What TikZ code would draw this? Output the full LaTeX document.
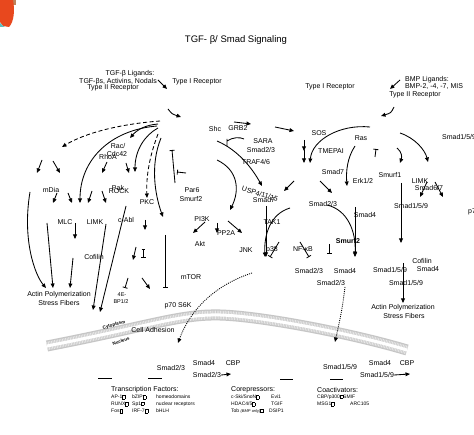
\documentclass[tikz,border=0pt]{standalone}
\usepackage{fontspec}
\setmainfont{Liberation Sans}
\usetikzlibrary{arrows.meta}
\newcommand\sqb{{\setlength{\fboxsep}{0pt}\setlength{\fboxrule}{0.3pt}\fbox{\rule{0pt}{3pt}\hspace{2.5pt}}}}
\definecolor{blobred}{RGB}{232,72,30}
\definecolor{blobbrown}{RGB}{190,130,90}
\definecolor{blobteal}{RGB}{90,190,190}
\begin{document}
\begin{tikzpicture}[x=1pt,y=-1pt,
 lbl/.style={font=\fontsize{7}{8}\selectfont,inner sep=0pt},
 sml/.style={font=\fontsize{5}{6}\selectfont,inner sep=0pt,anchor=west},
 hd/.style={font=\fontsize{7}{8}\selectfont,inner sep=0pt,anchor=west},
 ar/.style={line width=0.85pt,-{Triangle[length=4.5pt,width=3.8pt]}},
 inh/.style={line width=0.85pt,-{Bar[width=5pt,line width=0.85pt]}},
 dsh/.style={ar,dash pattern=on 4pt off 2.5pt},
 dotl/.style={ar,dash pattern=on 1pt off 1.1pt},
 seg/.style={line width=0.6pt}]
\useasboundingbox (0,0) rectangle (474,435);
\fill[white] (0,0) rectangle (474,435);
% corner blob
\fill[blobbrown] (10,0) rectangle (16,5);
\fill[blobred] (0,0) -- (13,0) .. controls (15,10) and (14,22) .. (9,27) -- (3,26) -- (0,22) -- cycle;
\fill[blobteal] (0,23) -- (3,26) -- (5,27) -- (0,27) -- cycle;
% membrane band
\draw[gray!45,line width=11pt] (47,346) .. controls (150,326) and (180,314) .. (220,315) .. controls (260,316) and (350,333) .. (407,350);
\draw[gray!18,line width=8.5pt,dash pattern=on 0.8pt off 0.8pt] (47,346) .. controls (150,326) and (180,314) .. (220,315) .. controls (260,316) and (350,333) .. (407,350);
\draw[white,line width=3pt] (47,346) .. controls (150,326) and (180,314) .. (220,315) .. controls (260,316) and (350,333) .. (407,350);
\node[font=\fontsize{4.5}{5}\selectfont\bfseries,inner sep=0,rotate=15] (cyto) at (114,325) {Cytoplasm};
\node[font=\fontsize{4.5}{5}\selectfont\bfseries,inner sep=0,rotate=18] (nucl) at (121,341) {Nucleus};
% title and ligands
\node[font=\fontsize{9.5}{11}\selectfont,inner sep=0] (title) at (236,40) {TGF- β/ Smad Signaling};
\node[lbl] (lig1) at (130,74) {TGF-β Ligands:};
\node[lbl] (lig2) at (118,82) {TGF-βs, Activins, Nodals};
\node[lbl] (lig3) at (113,88) {Type II Receptor};
\node[lbl] (rec1) at (197,82) {Type I Receptor};
\node[lbl] (rec2) at (330,87) {Type I Receptor};
\node[lbl] (bmp1) at (427,80) {BMP Ligands:};
\node[lbl] (bmp2) at (434,87) {BMP-2, -4, -7, MIS};
\node[lbl] (bmp3) at (415,95) {Type II Receptor};
\node[lbl,anchor=west] (s159a) at (442,137) {Smad1/5/9};
\node[lbl,anchor=west] (p70b) at (468,212) {p70 S6K};
% left labels
\node[lbl] (rac) at (118,146) {Rac/};
\node[lbl] (rhoa) at (108,157) {RhoA};
\node[lbl] (cdc) at (117,154) {Cdc42};
\node[lbl] (pak) at (118,188) {Pak};
\node[lbl] (rock) at (119,191) {ROCK};
\node[lbl] (mdia) at (51,190) {mDia};
\node[lbl] (mlc) at (65,222) {MLC};
\node[lbl] (limk) at (95,222) {LIMK};
\node[lbl] (cabl) at (126,220) {c-Abl};
\node[lbl] (pkc) at (147,202) {PKC};
\node[lbl] (par6) at (192,190) {Par6};
\node[lbl] (smurf2a) at (191,199) {Smurf2};
\node[lbl] (cof) at (94,257) {Cofilin};
\node[lbl] (mtor) at (191,277) {mTOR};
\node[font=\fontsize{5.5}{6}\selectfont,inner sep=0] (ebp1) at (122,295) {4E-};
\node[font=\fontsize{5.5}{6}\selectfont,inner sep=0] (ebp2) at (121,302) {BP1/2};
\node[lbl] (p70) at (178,306) {p70 S6K};
\node[lbl] (act1) at (59,295) {Actin Polymerization};
\node[lbl] (sf1) at (59,303) {Stress Fibers};
\node[lbl] (pi3k) at (202,219) {PI3K};
\node[lbl] (pp2a) at (226,233) {PP2A};
\node[lbl] (akt) at (200,244) {Akt};
% middle labels
\node[lbl] (shc) at (215,129) {Shc};
\node[lbl] (grb2) at (238,128) {GRB2};
\node[lbl] (sara) at (263,141) {SARA};
\node[lbl] (s23a) at (261,150) {Smad2/3};
\node[lbl] (traf) at (256,162) {TRAF4/6};
\node[lbl,rotate=-17] (usp) at (260,194) {USP4/11/15};
\node[lbl] (smad7a) at (264,200) {Smad7};
\node[lbl] (tak1) at (272,222) {TAK1};
\node[lbl] (jnk) at (246,250) {JNK};
\node[lbl] (p38) at (272,250) {p38};
\node[lbl] (nfkb) at (303,249) {NF-κB};
\node[lbl] (s23b) at (323,204) {Smad2/3};
\node[lbl] (s4a) at (365,215) {Smad4};
\node[lbl,font=\fontsize{7}{8}\selectfont\bfseries] (smurf2b) at (348,241) {Smurf2};
\node[lbl] (sos) at (319,133) {SOS};
\node[lbl] (ras) at (361,138) {Ras};
\node[lbl] (tmepai) at (331,151) {TMEPAI};
\node[lbl] (smad7b) at (333,172) {Smad7};
\node[lbl] (erk) at (363,181) {Erk1/2};
\node[lbl] (smurf1) at (390,175) {Smurf1};
\node[lbl] (limk2) at (420,181) {LIMK};
\node[lbl] (s67) at (429,188) {Smad6/7};
\node[lbl] (s159b) at (411,206) {Smad1/5/9};
\node[lbl] (s23c) at (309,271) {Smad2/3};
\node[lbl] (s4b) at (345,271) {Smad4};
\node[lbl] (s23d) at (331,283) {Smad2/3};
\node[lbl] (s159c) at (390,270) {Smad1/5/9};
\node[lbl] (cof2) at (422,261) {Cofilin};
\node[lbl] (s4c) at (428,269) {Smad4};
\node[lbl] (s159d) at (406,283) {Smad1/5/9};
\node[lbl] (act2) at (403,308) {Actin Polymerization};
\node[lbl] (sf2) at (404,316) {Stress Fibers};
\node[lbl] (cadh) at (153,330) {Cell Adhesion};
% nucleus labels
\node[lbl] (n23a) at (171,368) {Smad2/3};
\node[lbl] (n4a) at (204,363) {Smad4};
\node[lbl] (ncbpa) at (233,363) {CBP};
\node[lbl] (n23b) at (207,375) {Smad2/3};
\node[lbl] (n159a) at (340,367) {Smad1/5/9};
\node[lbl] (n4b) at (380,363) {Smad4};
\node[lbl] (ncbpb) at (407,363) {CBP};
\node[lbl] (n159b) at (377,375) {Smad1/5/9};
\coordinate (n23e) at (231,374);
\coordinate (n159e) at (410,374);
\draw[ar] (n23b.east) -- (n23e);
\draw[ar] (n159b.east) -- (n159e);
\draw[seg] (98,378) -- (112,378) (148,378) -- (162,378) (280,379) -- (293,379) (330,379) -- (343,379);
% factor lists
\node[hd] (tfh) at (111,390) {Transcription Factors:};
\node[sml] at (111,397) {AP-1\sqb}; \node[sml] at (132,397) {bZIP\sqb}; \node[sml] at (156,397) {homeodomains};
\node[sml] at (111,404) {RUNX\sqb}; \node[sml] at (132,404) {Sp1\sqb}; \node[sml] at (156,404) {nuclear receptors};
\node[sml] at (111,411) {Fos\sqb}; \node[sml] at (132,411) {IRF-7\sqb}; \node[sml] at (156,411) {bHLH};
\node[hd] (coh) at (231,390) {Corepressors:};
\node[sml] at (231,397) {c-Ski/SnoN\sqb}; \node[sml] at (271,397) {Evi1};
\node[sml] at (231,404) {HDAC4/5\sqb}; \node[sml] at (271,404) {TGIF};
\node[sml] at (231,411) {Tob {\fontsize{4}{5}\selectfont\itshape (BMP only)}\sqb}; \node[sml] at (269,411) {DSIP1};
\node[hd] (cah) at (317,390) {Coactivators:};
\node[sml] at (317,397) {CBP/p300\sqb}; \node[sml] at (343,397) {SMIF};
\node[sml] at (317,404) {MSG1\sqb}; \node[sml] at (350,404) {ARC105};
% top connectors
\draw[ar] (158,80) -- (167,89);
\draw[ar] (168,109) .. controls (172,114) .. (181,117);
\draw[ar] (400,80) -- (390,89);
\draw[ar] (394,107) .. controls (391,113) .. (381,116);
\draw[ar] (234,122) -- (251,124);
\draw[ar] (275,127) -- (294,131);
\draw[line width=0.85pt] (227,139) -- (227,146) (227,141) .. controls (233,137) and (240,137) .. (244,139);
% left fan
\draw[dsh] (160,121) .. controls (120,124) and (85,133) .. (62,147);
\draw[ar] (158,124) .. controls (145,125) and (137,130) .. (130,138);
\draw[ar] (157,126) .. controls (110,130) and (80,160) .. (80,203);
\draw[ar] (158,128) .. controls (145,135) and (135,150) .. (135,172);
\draw[ar] (126,163) -- (129,173);
\draw[dsh] (158,134) .. controls (150,155) and (146,175) .. (147,198);
\draw[ar] (161,138) .. controls (150,165) and (155,195) .. (163,217);
% left arrows
\draw[ar] (42,160) -- (37,173);
\draw[ar] (53,161) -- (60,173);
\draw[ar] (107,162) -- (102,173);
\draw[ar] (57,193) -- (53,203);
\draw[ar] (68,193) -- (72,203);
\draw[ar] (92,191) -- (88,203);
\draw[ar] (102,191) -- (106,203);
\draw[ar] (30,192) .. controls (22,240) and (35,275) .. (46,288);
\draw[ar] (47,223) -- (53,288);
\draw[ar] (75,223) -- (75,239);
\draw[ar] (73,258) -- (70,288);
\draw[ar] (106,224) -- (93,310);
\draw[ar] (126,206) -- (100,312);
\draw[ar] (145,220) -- (145,230);
\draw[ar] (136,247) -- (133,260);
\draw[line width=0.85pt,{Bar[width=3pt,line width=0.85pt]}-{Bar[width=5pt,line width=0.85pt]}] (143,249) -- (143,258);
\draw[inh] (128,278) -- (125,288);
\draw[ar] (142,278) -- (150,289);
\draw[inh] (165,235) -- (165,288);
\draw[inh] (175,183) -- (172,150);
\draw[inh] (186,173) -- (177,172);
% PI3K
\draw[ar] (205,222) -- (193,233);
\draw[ar] (217,223) -- (217,233);
\draw[ar] (228,221) -- (242,233);
% Shc arcs
\draw[ar] (217,141) .. controls (238,150) and (252,168) .. (262,186);
\draw[ar] (217,160) .. controls (238,170) and (240,190) .. (230,210);
% middle right
\draw[ar] (266,206) -- (266,257);
\draw[ar] (290,208) .. controls (270,214) and (264,235) .. (265,257);
\draw[inh] (279,242) -- (270,257);
\draw[inh] (300,242) -- (309,257);
\draw[inh] (329,244) -- (329,254);
\draw[ar] (355,207) -- (355,257);
\draw[ar] (327,205) .. controls (348,210) and (356,232) .. (355,256);
\draw[ar] (294,181) -- (284,191);
\draw[ar] (320,181) -- (332,193);
\draw[ar] (355,146) .. controls (347,158) and (346,172) .. (347,186);
\draw[ar] (370,127) .. controls (340,124) and (312,140) .. (310,163);
\draw[ar] (304,140) -- (304,151);
\draw[ar] (304,150) -- (304,163);
\draw[inh] (375,157) -- (376,149);
\draw[ar] (397,148) .. controls (402,152) and (402,157) .. (400,163);
\draw[ar] (400,133) .. controls (415,138) and (425,150) .. (428,162);
\draw[ar] (427,182) -- (420,197);
\draw[ar] (435,182) -- (443,197);
\draw[ar] (401,183) -- (401,243);
\draw[ar] (403,263) -- (403,303);
\draw[dotl] (345,287) .. controls (342,310) .. (335,342);
\draw[dotl] (252,273) .. controls (215,285) and (190,310) .. (178,343);
\end{tikzpicture}
\end{document}
